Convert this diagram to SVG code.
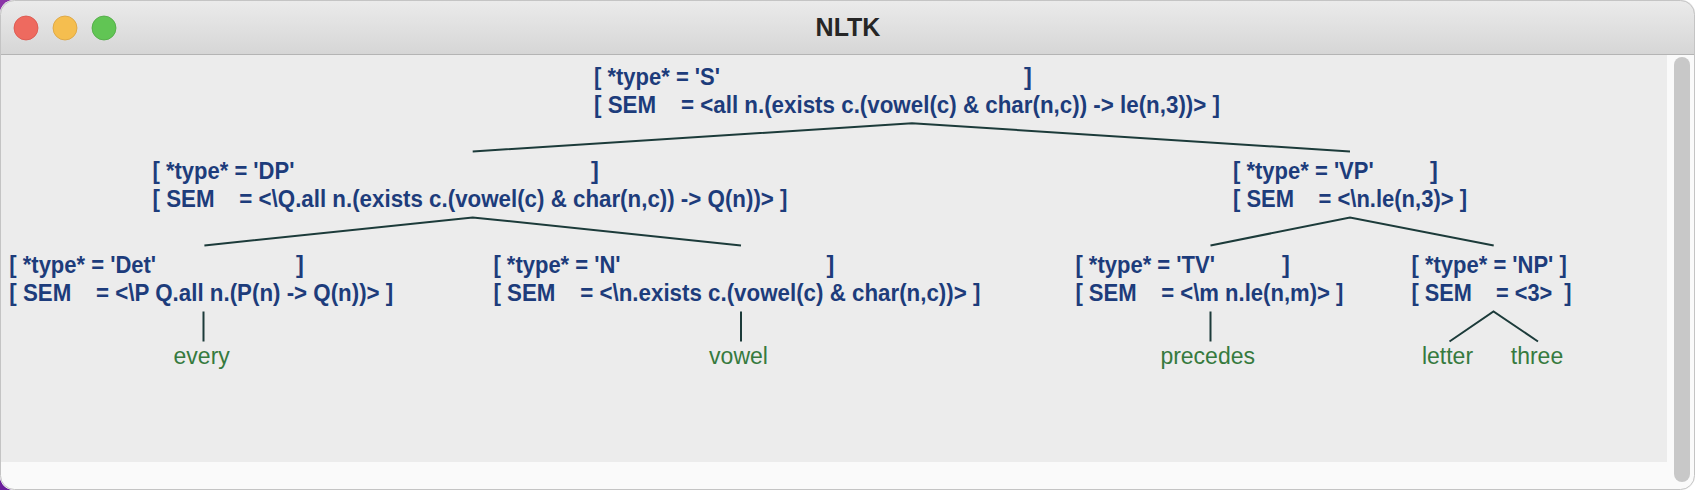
<svg xmlns="http://www.w3.org/2000/svg" width="1696" height="490" viewBox="0 0 1696 490">
<defs>
<linearGradient id="tb" x1="0" y1="0" x2="0" y2="1">
<stop offset="0" stop-color="#ebebeb"/>
<stop offset="1" stop-color="#d6d6d6"/>
</linearGradient>
<clipPath id="win"><rect x="0" y="0" width="1695" height="490" rx="14" ry="14"/></clipPath>
<style>
.n{font-family:"Liberation Sans",Arial,sans-serif;font-weight:bold;font-size:23.5px;fill:#1d3c7b;white-space:pre}
.leaf{font-family:"Liberation Sans",Arial,sans-serif;font-size:23px;fill:#367a3e;text-anchor:middle}
.e{stroke:#1c3b3a;stroke-width:2;fill:none}
</style>
</defs>
<rect width="1696" height="490" fill="#ffffff"/>
<rect x="0" y="0" width="20" height="20" fill="#8a34a6"/>
<rect x="0" y="470" width="20" height="20" fill="#6b1f9c"/>
<g id="window" clip-path="url(#win)">
<rect x="0" y="0" width="1695" height="490" fill="#ececec"/>
<rect x="0" y="0" width="1695" height="54" fill="url(#tb)"/>
<rect x="0" y="54" width="1695" height="1" fill="#b4b4b4"/>
<rect x="0" y="462" width="1667" height="28" fill="#fafafa"/>
<rect x="1667" y="55" width="28" height="435" fill="#fafafa"/>
<rect x="1674" y="57" width="16" height="425" rx="8" ry="8" fill="#c8c8c8"/>
</g>
<rect x="0.5" y="0.5" width="1694" height="489" rx="14" ry="14" fill="none" stroke="#c4c4c4" stroke-width="1"/>
<g id="titlebar">
<circle cx="26" cy="28" r="12" fill="#ee6a5f" stroke="#d9534a" stroke-width="0.8"/>
<circle cx="65" cy="28" r="12" fill="#f5be4f" stroke="#d9a23d" stroke-width="0.8"/>
<circle cx="104" cy="28" r="12" fill="#61c554" stroke="#4ea843" stroke-width="0.8"/>
<text x="848" y="36" text-anchor="middle" font-family="Liberation Sans, Arial, sans-serif" font-weight="bold" font-size="25" fill="#262626">NLTK</text>
</g>
<g id="connectors">
<polyline class="e" points="472.7,151.4 912,123.3 1350,151.4"/>
<polyline class="e" points="204.4,245.5 472.7,217.4 741,245.5"/>
<polyline class="e" points="1210.5,245.5 1350,217.4 1493.7,245.5"/>
<line class="e" x1="203.5" y1="311.5" x2="203.5" y2="341.5"/>
<line class="e" x1="741" y1="311.5" x2="741" y2="341.5"/>
<line class="e" x1="1210.5" y1="311.5" x2="1210.5" y2="341.5"/>
<polyline class="e" points="1449.5,341.5 1493.5,311.5 1538,341.5"/>
</g>
<g id="node-S">
<text class="n" xml:space="preserve" x="594" y="84.5" textLength="126" lengthAdjust="spacingAndGlyphs">[ *type* = 'S'</text>
<text class="n" x="1024" y="84.5">]</text>
<text class="n" xml:space="preserve" x="594" y="113" textLength="626" lengthAdjust="spacingAndGlyphs">[ SEM    = &lt;all n.(exists c.(vowel(c) &amp; char(n,c)) -&gt; le(n,3))&gt; ]</text>
</g>
<g id="node-DP">
<text class="n" xml:space="preserve" x="152.5" y="178.5" textLength="141.9" lengthAdjust="spacingAndGlyphs">[ *type* = 'DP'</text>
<text class="n" x="591" y="178.5">]</text>
<text class="n" xml:space="preserve" x="152.5" y="207" textLength="635" lengthAdjust="spacingAndGlyphs">[ SEM    = &lt;\Q.all n.(exists c.(vowel(c) &amp; char(n,c)) -&gt; Q(n))&gt; ]</text>
</g>
<g id="node-VP">
<text class="n" xml:space="preserve" x="1233" y="178.5" textLength="140.7" lengthAdjust="spacingAndGlyphs">[ *type* = 'VP'</text>
<text class="n" x="1430" y="178.5">]</text>
<text class="n" xml:space="preserve" x="1233" y="207" textLength="234" lengthAdjust="spacingAndGlyphs">[ SEM    = &lt;\n.le(n,3)&gt; ]</text>
</g>
<g id="node-Det">
<text class="n" xml:space="preserve" x="9.3" y="272.5" textLength="146.8" lengthAdjust="spacingAndGlyphs">[ *type* = 'Det'</text>
<text class="n" x="296" y="272.5">]</text>
<text class="n" xml:space="preserve" x="9.3" y="301" textLength="384" lengthAdjust="spacingAndGlyphs">[ SEM    = &lt;\P Q.all n.(P(n) -&gt; Q(n))&gt; ]</text>
</g>
<g id="node-N">
<text class="n" xml:space="preserve" x="493.4" y="272.5" textLength="127.2" lengthAdjust="spacingAndGlyphs">[ *type* = 'N'</text>
<text class="n" x="826.5" y="272.5">]</text>
<text class="n" xml:space="preserve" x="493.4" y="301" textLength="487" lengthAdjust="spacingAndGlyphs">[ SEM    = &lt;\n.exists c.(vowel(c) &amp; char(n,c))&gt; ]</text>
</g>
<g id="node-TV">
<text class="n" xml:space="preserve" x="1075.4" y="272.5" textLength="139.5" lengthAdjust="spacingAndGlyphs">[ *type* = 'TV'</text>
<text class="n" x="1282" y="272.5">]</text>
<text class="n" xml:space="preserve" x="1075.4" y="301" textLength="268" lengthAdjust="spacingAndGlyphs">[ SEM    = &lt;\m n.le(n,m)&gt; ]</text>
</g>
<g id="node-NP">
<text class="n" xml:space="preserve" x="1411.5" y="272.5" textLength="155.3" lengthAdjust="spacingAndGlyphs">[ *type* = 'NP' ]</text>
<text class="n" xml:space="preserve" x="1411.5" y="301" textLength="160" lengthAdjust="spacingAndGlyphs">[ SEM    = &lt;3&gt;  ]</text>
</g>
<g id="leaf-every"><text class="leaf" x="201.7" y="364">every</text></g>
<g id="leaf-vowel"><text class="leaf" x="738.5" y="364">vowel</text></g>
<g id="leaf-precedes"><text class="leaf" x="1207.7" y="364">precedes</text></g>
<g id="leaf-letter"><text class="leaf" x="1447.5" y="364">letter</text></g>
<g id="leaf-three"><text class="leaf" x="1537" y="364">three</text></g>
</svg>
